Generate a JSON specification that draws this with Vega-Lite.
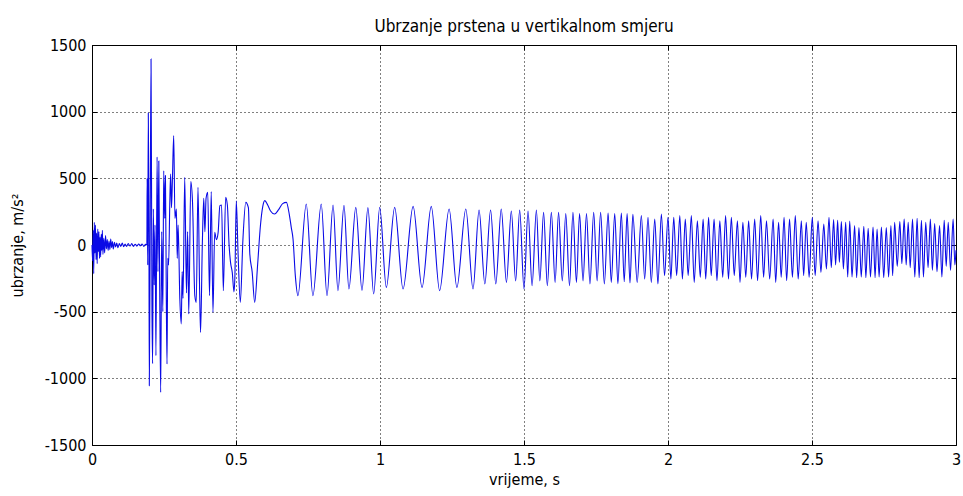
{
  "$schema": "https://vega.github.io/schema/vega-lite/v6.json",
  "width": 864,
  "height": 400,
  "autosize": {"type": "none"},
  "padding": {"left": 92, "top": 45, "right": 7, "bottom": 51},
  "background": "white",
  "title": {"text": "Ubrzanje prstena u vertikalnom smjeru", "fontSize": 17, "fontWeight": "normal", "font": "DejaVu Sans Condensed, Liberation Sans Narrow, Liberation Sans, sans-serif", "color": "black", "offset": 1},
  "config": {
    "view": {"stroke": "black", "strokeWidth": 1},
    "axis": {"domainColor": "black", "tickColor": "black", "gridColor": "black", "gridDash": [1, 3], "gridOpacity": 1, "gridWidth": 1, "labelColor": "black", "titleColor": "black", "labelFont": "DejaVu Sans Condensed, Liberation Sans Narrow, Liberation Sans, sans-serif", "titleFont": "DejaVu Sans Condensed, Liberation Sans Narrow, Liberation Sans, sans-serif", "labelFontSize": 16, "titleFontSize": 16, "titleFontWeight": "normal", "tickSize": -5, "labelPadding": 11, "labelFlush": false, "labelOverlap": false}
  },
  "data": {"values": [
    {"t":0,"a":0},{"t":0.002,"a":-120},{"t":0.004,"a":110},{"t":0.006,"a":-215},{"t":0.008,"a":170},{"t":0.010,"a":-60},{"t":0.012,"a":150},{"t":0.014,"a":-110},{"t":0.016,"a":90},{"t":0.018,"a":-140},{"t":0.020,"a":120},{"t":0.022,"a":-50},{"t":0.024,"a":100},{"t":0.026,"a":-100},{"t":0.028,"a":60},{"t":0.030,"a":-90},{"t":0.032,"a":80},{"t":0.034,"a":-40},{"t":0.036,"a":110},{"t":0.038,"a":-70},{"t":0.041,"a":50},{"t":0.044,"a":-60},{"t":0.047,"a":70},{"t":0.050,"a":-30},{"t":0.053,"a":40},{"t":0.056,"a":-40},{"t":0.059,"a":30},{"t":0.062,"a":-35},{"t":0.065,"a":45},{"t":0.068,"a":-20},{"t":0.071,"a":25},{"t":0.074,"a":-30},{"t":0.078,"a":20},{"t":0.082,"a":-15},{"t":0.086,"a":15},{"t":0.090,"a":-20},{"t":0.095,"a":10},{"t":0.100,"a":-10},{"t":0.105,"a":15},{"t":0.110,"a":-12},{"t":0.115,"a":8},{"t":0.120,"a":-10},{"t":0.126,"a":10},{"t":0.132,"a":-8},{"t":0.138,"a":10},{"t":0.144,"a":-10},{"t":0.150,"a":6},{"t":0.156,"a":-8},{"t":0.162,"a":8},{"t":0.168,"a":-6},{"t":0.174,"a":8},{"t":0.180,"a":-10},{"t":0.186,"a":5},{"t":0.1905,"a":0},
    {"t":0.1915,"a":500},{"t":0.1935,"a":-150},{"t":0.1955,"a":990},{"t":0.1975,"a":300},{"t":0.199,"a":-1055},{"t":0.202,"a":100},{"t":0.205,"a":1395},{"t":0.208,"a":-400},{"t":0.2105,"a":-890},{"t":0.213,"a":270},{"t":0.216,"a":-300},{"t":0.219,"a":150},{"t":0.222,"a":-830},{"t":0.226,"a":660},{"t":0.229,"a":-200},{"t":0.232,"a":630},{"t":0.235,"a":-300},{"t":0.2385,"a":-1105},{"t":0.242,"a":100},{"t":0.246,"a":-500},{"t":0.249,"a":557},{"t":0.2525,"a":200},{"t":0.255,"a":520},{"t":0.258,"a":-400},{"t":0.2605,"a":-893},{"t":0.263,"a":-100},{"t":0.266,"a":-150},{"t":0.270,"a":300},{"t":0.273,"a":532},{"t":0.276,"a":280},{"t":0.279,"a":470},{"t":0.2837,"a":820},{"t":0.288,"a":200},{"t":0.293,"a":270},{"t":0.296,"a":-100},{"t":0.299,"a":150},{"t":0.305,"a":-405},{"t":0.310,"a":-592},{"t":0.313,"a":-200},{"t":0.316,"a":-400},{"t":0.322,"a":507},{"t":0.328,"a":-360},{"t":0.332,"a":100},{"t":0.336,"a":-517},{"t":0.343,"a":475},{"t":0.349,"a":320},{"t":0.357,"a":-380},{"t":0.362,"a":-430},{"t":0.368,"a":432},{"t":0.374,"a":-380},{"t":0.377,"a":-655},{"t":0.383,"a":0},{"t":0.388,"a":350},{"t":0.392,"a":100},{"t":0.396,"a":350},{"t":0.402,"a":395},{"t":0.408,"a":-380},{"t":0.414,"a":400},{"t":0.420,"a":-505},{"t":0.426,"a":95},{"t":0.432,"a":40},{"t":0.438,"a":95},{"t":0.444,"a":295},{"t":0.450,"a":300},{"t":0.456,"a":-343},{"t":0.464,"a":357},{"t":0.470,"a":300},{"t":0.476,"a":0},{"t":0.481,"a":-130},{"t":0.487,"a":-205},{"t":0.493,"a":-352},{"t":0.496,"a":-250},{"t":0.501,"a":332},{"t":0.507,"a":-50},{"t":0.515,"a":-430},{"t":0.524,"a":40},{"t":0.534,"a":320},{"t":0.543,"a":280},{"t":0.548,"a":-70},{"t":0.556,"a":-200},{"t":0.565,"a":-430},
    {"t":0.575,"a":-150},{"t":0.585,"a":150},{"t":0.593,"a":290},{"t":0.600,"a":333},{"t":0.610,"a":300},{"t":0.620,"a":255},{"t":0.634,"a":232},{"t":0.648,"a":265},{"t":0.662,"a":310},{"t":0.675,"a":320},{"t":0.685,"a":230},{"t":0.692,"a":130},{"t":0.698,"a":45},{"t":0.706,"a":-230},{"t":0.715,"a":-380},
    {"t":0.744,"a":307},{"t":0.767,"a":-380},{"t":0.796,"a":307},{"t":0.816,"a":-380},{"t":0.837,"a":300},{"t":0.854,"a":-342},{"t":0.875,"a":297},{"t":0.892,"a":-330},{"t":0.916,"a":282},{"t":0.9375,"a":-340},{"t":0.958,"a":280},{"t":0.978,"a":-367},{"t":0.999,"a":282},{"t":1.022,"a":-318},{"t":1.051,"a":282},{"t":1.080,"a":-330},{"t":1.115,"a":290},{"t":1.146,"a":-318},{"t":1.178,"a":290},{"t":1.207,"a":-342},{"t":1.240,"a":270},{"t":1.267,"a":-318},{"t":1.298,"a":270},{"t":1.323,"a":-330},{"t":1.344,"a":262},{"t":1.364,"a":-292},{"t":1.384,"a":262},{"t":1.402,"a":-292},{"t":1.421,"a":270},{"t":1.439,"a":-280},{"t":1.456,"a":255},{"t":1.471,"a":-270},{"t":1.485,"a":262},{"t":1.500,"a":-330},{"t":1.514,"a":255},{"t":1.528,"a":-305},{"t":1.543,"a":262},{"t":1.555,"a":-270},{"t":1.568,"a":245},{"t":1.581,"a":-305},{"t":1.595,"a":245},{"t":1.608,"a":-280},{"t":1.620,"a":245},{"t":1.633,"a":-270},{"t":1.645,"a":235},{"t":1.658,"a":-305},{"t":1.670,"a":245},{"t":1.682,"a":-280},{"t":1.693,"a":235},{"t":1.705,"a":-270},{"t":1.717,"a":235},{"t":1.729,"a":-292},{"t":1.742,"a":245},{"t":1.754,"a":-270},{"t":1.766,"a":245},{"t":1.779,"a":-292},{"t":1.792,"a":240},{"t":1.803,"a":-280},{"t":1.815,"a":235},{"t":1.826,"a":-290},{"t":1.838,"a":240},{"t":1.848,"a":-275},{"t":1.858,"a":235},{"t":1.868,"a":-285},{"t":1.878,"a":230},
    {"t":1.893,"a":-280},{"t":1.9075,"a":220},{"t":1.919,"a":-255},{"t":1.9306,"a":207},{"t":1.942,"a":-280},{"t":1.954,"a":195},{"t":1.965,"a":-292},{"t":1.977,"a":232},{"t":1.988,"a":-230},{"t":2.000,"a":207},{"t":2.010,"a":-255},{"t":2.020,"a":207},{"t":2.030,"a":-230},{"t":2.041,"a":220},{"t":2.050,"a":-255},{"t":2.060,"a":195},{"t":2.070,"a":-230},{"t":2.081,"a":220},{"t":2.091,"a":-280},{"t":2.102,"a":182},{"t":2.112,"a":-242},{"t":2.122,"a":195},{"t":2.131,"a":-255},{"t":2.141,"a":207},{"t":2.150,"a":-230},{"t":2.160,"a":195},{"t":2.170,"a":-268},{"t":2.180,"a":182},{"t":2.190,"a":-242},{"t":2.200,"a":220},{"t":2.210,"a":-255},{"t":2.220,"a":207},{"t":2.230,"a":-230},{"t":2.241,"a":182},{"t":2.250,"a":-280},{"t":2.260,"a":170},{"t":2.270,"a":-242},{"t":2.280,"a":182},{"t":2.290,"a":-255},{"t":2.301,"a":195},{"t":2.311,"a":-268},{"t":2.322,"a":220},{"t":2.332,"a":-242},{"t":2.342,"a":182},{"t":2.353,"a":-255},{"t":2.365,"a":195},{"t":2.374,"a":-280},{"t":2.384,"a":170},{"t":2.393,"a":-242},{"t":2.403,"a":207},{"t":2.412,"a":-268},{"t":2.422,"a":195},{"t":2.432,"a":-242},{"t":2.442,"a":220},{"t":2.452,"a":-255},{"t":2.463,"a":182},{"t":2.471,"a":-230},{"t":2.480,"a":170},{"t":2.490,"a":-242},{"t":2.501,"a":207},{"t":2.511,"a":-230},{"t":2.521,"a":182},{"t":2.531,"a":-205},{"t":2.541,"a":157},{"t":2.550,"a":-180},{"t":2.559,"a":207},{"t":2.567,"a":-170},{"t":2.575,"a":190},{"t":2.582,"a":-150},{"t":2.589,"a":185},{"t":2.595,"a":-130},
    {"t":2.602,"a":175},{"t":2.609,"a":-180},{"t":2.617,"a":170},{"t":2.624,"a":-240},{"t":2.631,"a":180},{"t":2.639,"a":-240},{"t":2.648,"a":145},{"t":2.655,"a":-245},{"t":2.663,"a":130},{"t":2.671,"a":-240},{"t":2.680,"a":140},{"t":2.687,"a":-245},{"t":2.695,"a":125},{"t":2.703,"a":-240},{"t":2.712,"a":135},{"t":2.719,"a":-245},{"t":2.726,"a":120},{"t":2.733,"a":-240},{"t":2.741,"a":135},{"t":2.749,"a":-245},{"t":2.758,"a":130},{"t":2.766,"a":-240},{"t":2.774,"a":145},{"t":2.780,"a":-230},{"t":2.787,"a":170},{"t":2.796,"a":-160},{"t":2.805,"a":175},{"t":2.812,"a":-140},{"t":2.820,"a":195},{"t":2.827,"a":-150},{"t":2.834,"a":170},{"t":2.841,"a":-170},{"t":2.849,"a":195},{"t":2.857,"a":-240},{"t":2.865,"a":200},{"t":2.872,"a":-245},{"t":2.880,"a":185},{"t":2.887,"a":-240},{"t":2.895,"a":170},{"t":2.903,"a":-170},{"t":2.911,"a":195},{"t":2.918,"a":-190},{"t":2.926,"a":160},{"t":2.934,"a":-200},{"t":2.943,"a":145},{"t":2.951,"a":-240},{"t":2.959,"a":185},{"t":2.966,"a":-160},{"t":2.973,"a":170},{"t":2.981,"a":-190},{"t":2.990,"a":195},{"t":2.996,"a":-150},{"t":3.0,"a":-40}
  ]},
  "layer": [
    {
      "mark": {"type": "line", "color": "#0a0ae6", "strokeWidth": 1.1, "interpolate": "monotone"},
      "encoding": {
        "x": {"field": "t", "type": "quantitative", "scale": {"domain": [0, 3], "nice": false, "zero": false}, "axis": {"title": "vrijeme, s", "values": [0, 0.5, 1, 1.5, 2, 2.5, 3], "grid": true, "domain": false, "labelExpr": "'' + datum.value", "titlePadding": 4}},
        "y": {"field": "a", "type": "quantitative", "scale": {"domain": [-1500, 1500], "nice": false}, "axis": {"title": "ubrzanje, m/s²", "values": [-1500, -1000, -500, 0, 500, 1000, 1500], "grid": true, "domain": false, "labelExpr": "datum.value < 0 ? '-' + abs(datum.value) : '' + datum.value", "titlePadding": 19}}
      }
    },
    {
      "mark": {"type": "line", "opacity": 0},
      "encoding": {
        "x": {"field": "t", "type": "quantitative", "axis": {"orient": "top", "values": [0, 0.5, 1, 1.5, 2, 2.5, 3], "labels": false, "grid": false, "domain": false, "title": null}},
        "y": {"field": "a", "type": "quantitative", "axis": {"orient": "right", "values": [-1500, -1000, -500, 0, 500, 1000, 1500], "labels": false, "grid": false, "domain": false, "title": null}}
      }
    }
  ],
  "resolve": {"axis": {"x": "independent", "y": "independent"}}
}
